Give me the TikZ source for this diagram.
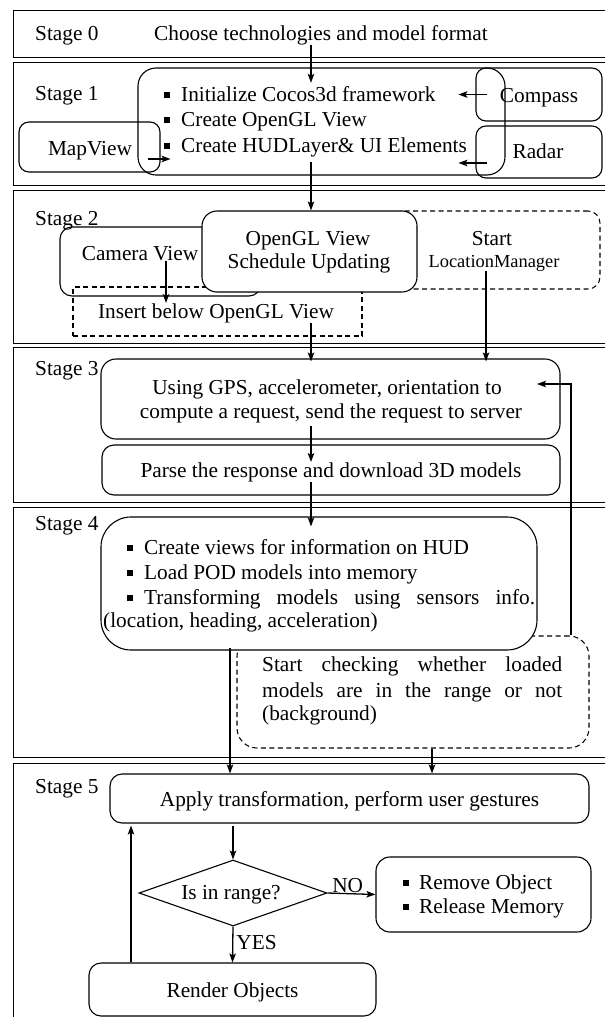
\documentclass[tikz,border=0pt]{standalone}
\usepackage{fontspec}
\setmainfont{Liberation Serif}
\usetikzlibrary{shapes.geometric,arrows.meta,calc}
\newcommand\sqbul{\rule[3pt]{6pt}{6pt}\hspace{11pt}}

\begin{document}
\begin{tikzpicture}[x=1pt,y=1pt,
  font=\fontsize{21.3pt}{25pt}\selectfont,
  stageframe/.style={draw, line width=1.3pt, inner sep=0pt, anchor=north west, minimum width=602pt},
  rbox/.style={draw, line width=1.1pt, rounded corners=#1, inner sep=0pt},
  rbox/.default=12pt,
  dbox/.style={draw, line width=1.05pt, dash pattern=on 5pt off 3.5pt, inner sep=0pt},
  lbl/.style={inner sep=0pt, anchor=base},
  arr/.style={-{Stealth[length=9pt,width=6.5pt,inset=2pt]}, line width=1.3pt},
]
\useasboundingbox (0,0) rectangle (605,-1017);
\clip (0,0) rectangle (605,-1017);

% stage frames (open to the right and bottom)
\node[stageframe, minimum height=47pt]  (st0) at (13,-10)  {};
\node[stageframe, minimum height=123pt] (st1) at (13,-62)  {};
\node[stageframe, minimum height=153pt] (st2) at (13,-190) {};
\node[stageframe, minimum height=155pt] (st3) at (13,-347) {};
\node[stageframe, minimum height=250pt] (st4) at (13,-507) {};
\node[stageframe, minimum height=280pt] (st5) at (13,-763) {};

% stage labels
\node[lbl, anchor=base west] (lab0) at (35,-40)  {Stage 0};
\node[lbl, anchor=base west] (lab1) at (35,-100) {Stage 1};
\node[lbl, anchor=base west] (lab2) at (35,-225) {Stage 2};
\node[lbl, anchor=base west] (lab3) at (35,-375) {Stage 3};
\node[lbl, anchor=base west] (lab4) at (35,-530) {Stage 4};
\node[lbl, anchor=base west] (lab5) at (35,-793) {Stage 5};

% column lines used by the vertical connectors
\coordinate (colA) at (311,0);
\coordinate (colB) at (486,0);
\coordinate (colC) at (230,0);
\coordinate (colD) at (432,0);
\coordinate (colE) at (571,0);
\coordinate (colF) at (131,0);
\coordinate (colG) at (166,0);
\coordinate (fbtip) at (537,-384);

% ---- Stage 0
\node[lbl] (choose) at (321,-40) {Choose technologies and model format};

% ---- Stage 1
\node[rbox=18pt, minimum width=367pt, minimum height=107pt] (s1box) at (321.5,-121.5) {};
\node[rbox=10pt, minimum width=126pt, minimum height=53pt] (compassbox) at (539,-94.5) {};
\node[rbox=10pt, minimum width=126pt, minimum height=52pt] (radarbox) at (539,-152) {};
\node[rbox=10pt, minimum width=141pt, minimum height=50pt] (mapbox) at (89.5,-147) {};
\node[lbl, anchor=base west] (s1a) at (164,-101) {\sqbul Initialize Cocos3d framework};
\node[lbl, anchor=base west] (s1b) at (164,-126) {\sqbul Create OpenGL View};
\node[lbl, anchor=base west] (s1c) at (164,-152) {\sqbul Create HUDLayer\& UI Elements};
\node[lbl] (compass) at (539,-102) {Compass};
\node[lbl] (radar) at (538,-158) {Radar};
\node[lbl] (mapview) at (90,-155) {MapView};

% ---- Stage 2
\node[rbox=12pt, minimum width=201pt, minimum height=69pt] (camerabox) at (160.5,-261.5) {};
\node[dbox, minimum width=289pt, minimum height=49pt] (insertbox) at (217.5,-311.5) {};
\node[dbox, rounded corners=12pt, minimum width=210pt, minimum height=78pt] (startbox) at (495,-250) {};
\node[rbox=15pt, fill=white, minimum width=215pt, minimum height=81pt] (oglbox) at (309.5,-251.5) {};
\node[lbl] (camera) at (140,-260) {Camera View};
\node[lbl] (ogla) at (308,-245) {OpenGL View};
\node[lbl] (oglb) at (309,-268) {Schedule Updating};
\node[lbl] (start) at (492,-245) {Start};
\node[lbl, font=\fontsize{18.4pt}{22pt}\selectfont] (locman) at (494,-267) {LocationManager};
\node[lbl] (insert) at (216,-318) {Insert below OpenGL View};

% ---- Stage 3
\node[rbox=15pt, minimum width=459pt, minimum height=80pt] (gpsbox) at (330.5,-399) {};
\node[rbox=12pt, minimum width=458pt, minimum height=50pt] (parsebox) at (331,-470) {};
\node[lbl] (gpsa) at (327,-394) {Using GPS, accelerometer, orientation to};
\node[lbl] (gpsb) at (331,-418) {compute a request, send the request to server};
\node[lbl] (parse) at (331,-477) {Parse the response and download 3D models};

% ---- Stage 4
\node[dbox, rounded corners=20pt, minimum width=352pt, minimum height=112pt] (checkbox) at (413,-692) {};
\node[rbox=30pt, fill=white, minimum width=436pt, minimum height=133pt] (s4box) at (319,-583.5) {};
\node[lbl, anchor=base west] (s4a) at (127,-554) {\sqbul Create views for information on HUD};
\node[lbl, anchor=base west] (s4b) at (127,-579) {\sqbul Load POD models into memory};
\node[lbl, anchor=base west] (s4c) at (127,-604) {\makebox[408pt][s]{\sqbul Transforming models using sensors info.}};
\node[lbl, anchor=base west] (s4d) at (103,-627) {(location, heading, acceleration)};
\node[lbl, anchor=base west] (chka) at (262,-671) {\makebox[300pt][s]{Start checking whether loaded}};
\node[lbl, anchor=base west] (chkb) at (262,-697) {\makebox[300pt][s]{models are in the range or not}};
\node[lbl, anchor=base west] (chkc) at (262,-720) {(background)};

% ---- Stage 5
\node[rbox=12pt, minimum width=479pt, minimum height=49pt] (applybox) at (349.5,-798.5) {};
\node[draw, diamond, line width=1.1pt, inner sep=0pt, minimum width=188pt, minimum height=66pt] (decide) at (233,-893) {};
\node[rbox=14pt, minimum width=215pt, minimum height=75pt] (removebox) at (483.5,-894.5) {};
\node[rbox=12pt, minimum width=287pt, minimum height=53pt] (renderbox) at (232.5,-989.5) {};
\node[lbl] (apply) at (349.5,-806) {Apply transformation, perform user gestures};
\node[lbl] (range) at (231,-899) {Is in range?};
\node[lbl, anchor=base west] (rema) at (403,-889) {\rule[3pt]{6pt}{6pt}\hspace{10pt}Remove Object};
\node[lbl, anchor=base west] (remb) at (403,-913) {\rule[3pt]{6pt}{6pt}\hspace{10pt}Release Memory};
\node[lbl] (render) at (232.5,-997) {Render Objects};

% ---- connectors
\draw[arr] (choose.south -| colA) -- ([yshift=3pt]s1a.north -| colA);
\draw[arr] ([xshift=12pt]compassbox.west) -- ([xshift=-17pt]compassbox.west);
\draw[arr] ([xshift=12pt,yshift=-11pt]radarbox.west) -- ([xshift=-17pt,yshift=-11pt]radarbox.west);
\draw[arr] ([xshift=-13pt,yshift=-12pt]mapbox.east) -- ([xshift=10pt,yshift=-12pt]mapbox.east);
\draw[arr] ([yshift=-5pt]s1c.south -| colA) -- (oglbox.north -| colA);
\draw[arr] (camera.south -| colG) -- (insert.north -| colG);
\draw[arr] (insert.south -| colA) -- ([yshift=-3pt]gpsbox.north -| colA);
\draw[arr] (locman.south -| colB) -- ([yshift=-3pt]gpsbox.north -| colB);
\draw[arr] ([yshift=-3pt]gpsb.south -| colA) -- (parse.north -| colA);
\draw[arr] (parse.south -| colA) -- ([yshift=-10pt]s4box.north -| colA);
\draw[arr, line width=1.1pt] (checkbox.north -| colE) |- (fbtip);
\draw[arr] ([yshift=3pt]s4box.south -| colC) -- (applybox.north -| colC);
\draw[arr] (checkbox.south -| colD) -- (applybox.north -| colD);
\draw[arr] ([yshift=-2pt]applybox.south -| decide.north) -- (decide.north);
\draw[arr] (decide.east) -- node[lbl, anchor=base, pos=0.42, yshift=1pt] (no) {NO} (removebox.west);
\draw[arr] (decide.south) -- node[lbl, anchor=west, pos=0.45, xshift=3pt] (yes) {YES} (renderbox.north);
\draw[arr] (renderbox.north -| colF) -- ([yshift=-2pt]applybox.south -| colF);
\end{tikzpicture}
\end{document}
